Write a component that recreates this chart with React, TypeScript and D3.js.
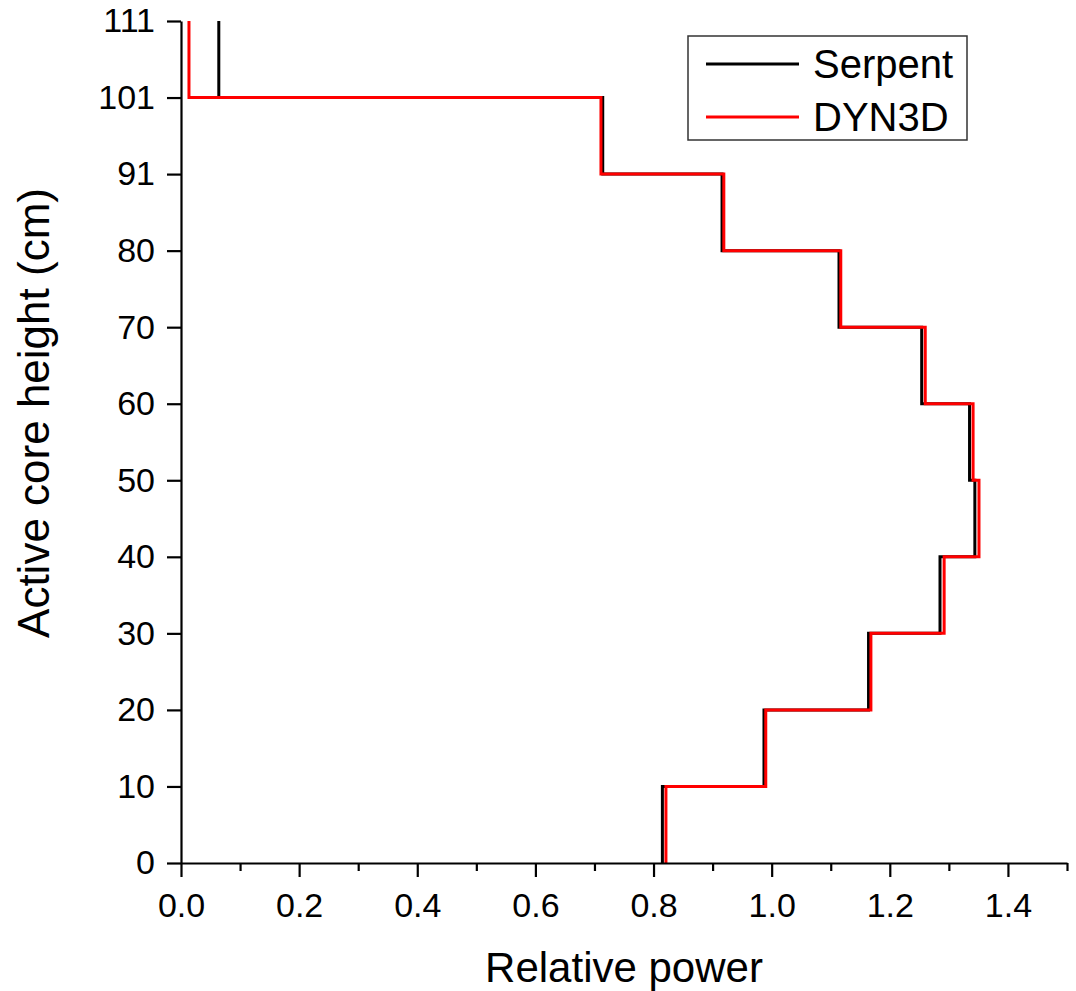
import React, { useRef, useEffect } from 'react';
import * as d3 from 'd3';

// layer boundaries (cm) and relative power in each layer, bottom to top
const heights = [0, 10, 20, 30, 40, 50, 60, 70, 80, 91, 101, 111];
const serpent = [0.815, 0.987, 1.164, 1.285, 1.344, 1.335, 1.254, 1.114, 0.916, 0.714, 0.064];
const dyn3d = [0.821, 0.99, 1.168, 1.292, 1.351, 1.341, 1.26, 1.117, 0.919, 0.711, 0.0135];

const xMajorTicks = [0, 0.2, 0.4, 0.6, 0.8, 1.0, 1.2, 1.4];
const xMinorTicks = [0.1, 0.3, 0.5, 0.7, 0.9, 1.1, 1.3, 1.5];
const seriesNames = ['Serpent', 'DYN3D'];
const seriesColors = ['#000000', '#ff0000'];

const FONT = '"Liberation Sans", Arial, sans-serif';

const App = () => {
  const xMajorRef = useRef<SVGGElement>(null);
  const xMinorRef = useRef<SVGGElement>(null);
  const yAxisRef = useRef<SVGGElement>(null);

  const width = 1076;
  const height = 991;
  const margin = { top: 21, right: 9, bottom: 128, left: 181 };
  const bottomY = height - margin.bottom;

  const x = d3.scaleLinear().domain([0, 1.5]).range([margin.left, width - margin.right]);
  // boundaries are drawn evenly spaced, like the original plot
  const step = (bottomY - margin.top) / (heights.length - 1);
  const y = d3.scaleLinear()
    .domain(heights)
    .range(heights.map((_, i) => bottomY - i * step));

  const stepPoints = (vals: number[]) => {
    const pts: [number, number][] = [];
    vals.forEach((v, i) => {
      pts.push([v, heights[i]]);
      pts.push([v, heights[i + 1]]);
    });
    return pts;
  };

  const line = d3.line<[number, number]>()
    .x(d => x(d[0]))
    .y(d => y(d[1]));

  useEffect(() => {
    const styleAxis = (g: any) => {
      g.attr('font-family', FONT).attr('font-size', 34);
      g.selectAll('line').attr('stroke', '#000').attr('stroke-width', 2.2);
      g.selectAll('path').attr('stroke', '#000').attr('stroke-width', 2.2);
      g.selectAll('text').attr('fill', '#000');
    };

    const gMinor = d3.select(xMinorRef.current);
    gMinor.selectAll('*').remove();
    gMinor.call(d3.axisBottom(x).tickValues(xMinorTicks).tickSize(8).tickSizeOuter(0).tickFormat(() => ''));
    gMinor.select('.domain').remove();
    styleAxis(gMinor);

    const gMajor = d3.select(xMajorRef.current);
    gMajor.selectAll('*').remove();
    gMajor.call(d3.axisBottom(x).tickValues(xMajorTicks).tickSize(14).tickSizeOuter(0)
      .tickPadding(16).tickFormat(d3.format('.1f') as any));
    styleAxis(gMajor);

    const gy = d3.select(yAxisRef.current);
    gy.selectAll('*').remove();
    gy.call(d3.axisLeft(y).tickValues(heights).tickSize(14).tickSizeOuter(0)
      .tickPadding(12).tickFormat(d3.format('d') as any));
    styleAxis(gy);
  }, []);

  const lx0 = 706, lx1 = 799;

  return (
    <svg
      width={width}
      height={height}
      style={{ position: 'absolute', left: 0, top: 0, background: '#fff' }}
    >
      <rect x={0} y={0} width={width} height={height} fill="#fff" />

      {[serpent, dyn3d].map((vals, k) => (
        <path
          key={seriesNames[k]}
          d={line(stepPoints(vals)) || ''}
          fill="none"
          stroke={seriesColors[k]}
          strokeWidth={3}
          strokeLinejoin="miter"
        />
      ))}

      <g ref={xMinorRef} transform={`translate(0,${bottomY})`} />
      <g ref={xMajorRef} transform={`translate(0,${bottomY})`} />
      <g ref={yAxisRef} transform={`translate(${margin.left},0)`} />

      <text x={(margin.left + width - margin.right) / 2} y={982} textAnchor="middle"
        fontFamily={FONT} fontSize={42} fill="#000">Relative power</text>
      <text transform={`translate(49,${(margin.top + bottomY) / 2 - 29}) rotate(-90)`} textAnchor="middle"
        fontFamily={FONT} fontSize={44} fill="#000">Active core height (cm)</text>

      <rect x={688} y={36} width={279} height={104} fill="#fff" stroke="#333" strokeWidth={1.5} />
      {seriesNames.map((name, k) => (
        <g key={name}>
          <line x1={lx0} x2={lx1} y1={64 + k * 53} y2={64 + k * 53}
            stroke={seriesColors[k]} strokeWidth={3} />
          <text x={813} y={78 + k * 53} fontFamily={FONT} fontSize={40} fill="#000">{name}</text>
        </g>
      ))}
    </svg>
  );
};

export default App;
